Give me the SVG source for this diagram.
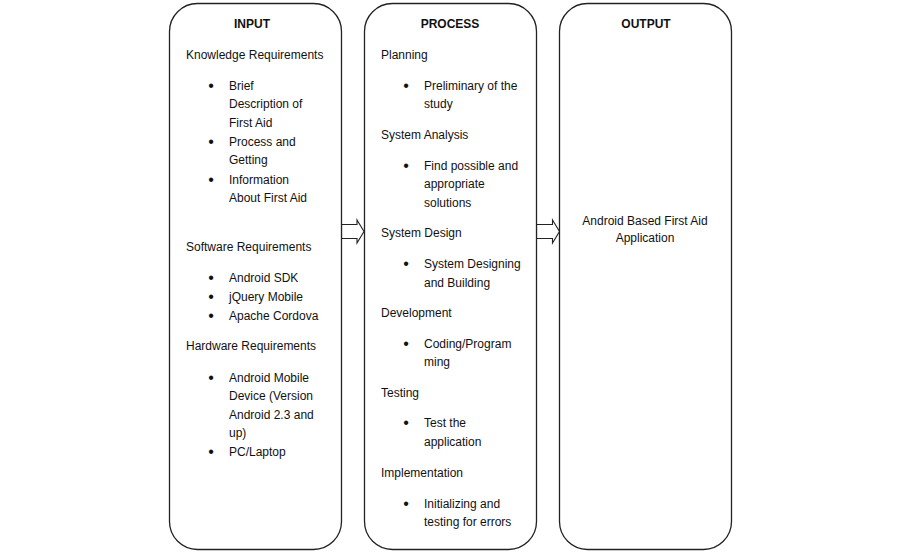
<svg xmlns="http://www.w3.org/2000/svg" width="900" height="554" viewBox="0 0 900 554">
<style>
.box{fill:#fff;stroke:#222;stroke-width:1.3}
.arr{fill:#fff;stroke:#222;stroke-width:1.1;stroke-linejoin:miter}
text{font-family:"Liberation Sans",Arial,sans-serif;font-size:12px;fill:#111}
.t{font-weight:bold;text-anchor:middle}
.c{text-anchor:middle}
.b{font-size:16px;text-anchor:middle}
</style>
<rect width="900" height="554" fill="#fff"/>
<g id="connectors">
<path class="arr" d="M341.5,224.5 H357 V220 L364,231.5 L357,243 V238.5 H341.5 Z"/>
<path class="arr" d="M536.5,224.5 H552.5 V220 L559.5,231.5 L552.5,243 V238.5 H536.5 Z"/>
</g>
<g id="input">
<rect class="box" x="169.5" y="3.5" width="172" height="546" rx="28" ry="28"/>
<text class="t" x="252" y="28">INPUT</text>
<text x="186" y="59">Knowledge Requirements</text>
<text class="b" x="211" y="91">•</text><text x="229" y="90">Brief</text>
<text x="229" y="108">Description of</text>
<text x="229" y="127">First Aid</text>
<text class="b" x="211" y="147">•</text><text x="229" y="146">Process and</text>
<text x="229" y="164">Getting</text>
<text class="b" x="211" y="185">•</text><text x="229" y="184">Information</text>
<text x="229" y="202">About First Aid</text>
<text x="186" y="251">Software Requirements</text>
<text class="b" x="211" y="283">•</text><text x="229" y="282">Android SDK</text>
<text class="b" x="211" y="302">•</text><text x="229" y="301">jQuery Mobile</text>
<text class="b" x="211" y="321">•</text><text x="229" y="320">Apache Cordova</text>
<text x="186" y="350">Hardware Requirements</text>
<text class="b" x="211" y="383">•</text><text x="229" y="382">Android Mobile</text>
<text x="229" y="400">Device (Version</text>
<text x="229" y="419">Android 2.3 and</text>
<text x="229" y="437">up)</text>
<text class="b" x="211" y="457">•</text><text x="229" y="456">PC/Laptop</text>
</g>
<g id="process">
<rect class="box" x="364.5" y="3.5" width="172" height="546" rx="28" ry="28"/>
<text class="t" x="450" y="28">PROCESS</text>
<text x="381" y="59">Planning</text>
<text class="b" x="406" y="91">•</text><text x="424" y="90">Preliminary of the</text>
<text x="424" y="108">study</text>
<text x="381" y="139">System Analysis</text>
<text class="b" x="406" y="171">•</text><text x="424" y="170">Find possible and</text>
<text x="424" y="188">appropriate</text>
<text x="424" y="207">solutions</text>
<text x="381" y="237">System Design</text>
<text class="b" x="406" y="269">•</text><text x="424" y="268">System Designing</text>
<text x="424" y="287">and Building</text>
<text x="381" y="317">Development</text>
<text class="b" x="406" y="349">•</text><text x="424" y="348">Coding/Program</text>
<text x="424" y="366">ming</text>
<text x="381" y="397">Testing</text>
<text class="b" x="406" y="428">•</text><text x="424" y="427">Test the</text>
<text x="424" y="446">application</text>
<text x="381" y="477">Implementation</text>
<text class="b" x="406" y="509">•</text><text x="424" y="508">Initializing and</text>
<text x="424" y="526">testing for errors</text>
</g>
<g id="output">
<rect class="box" x="559.5" y="3.5" width="172" height="546" rx="28" ry="28"/>
<text class="t" x="646" y="28">OUTPUT</text>
<text class="c" x="645" y="225">Android Based First Aid</text>
<text class="c" x="645" y="242">Application</text>
</g>
</svg>
